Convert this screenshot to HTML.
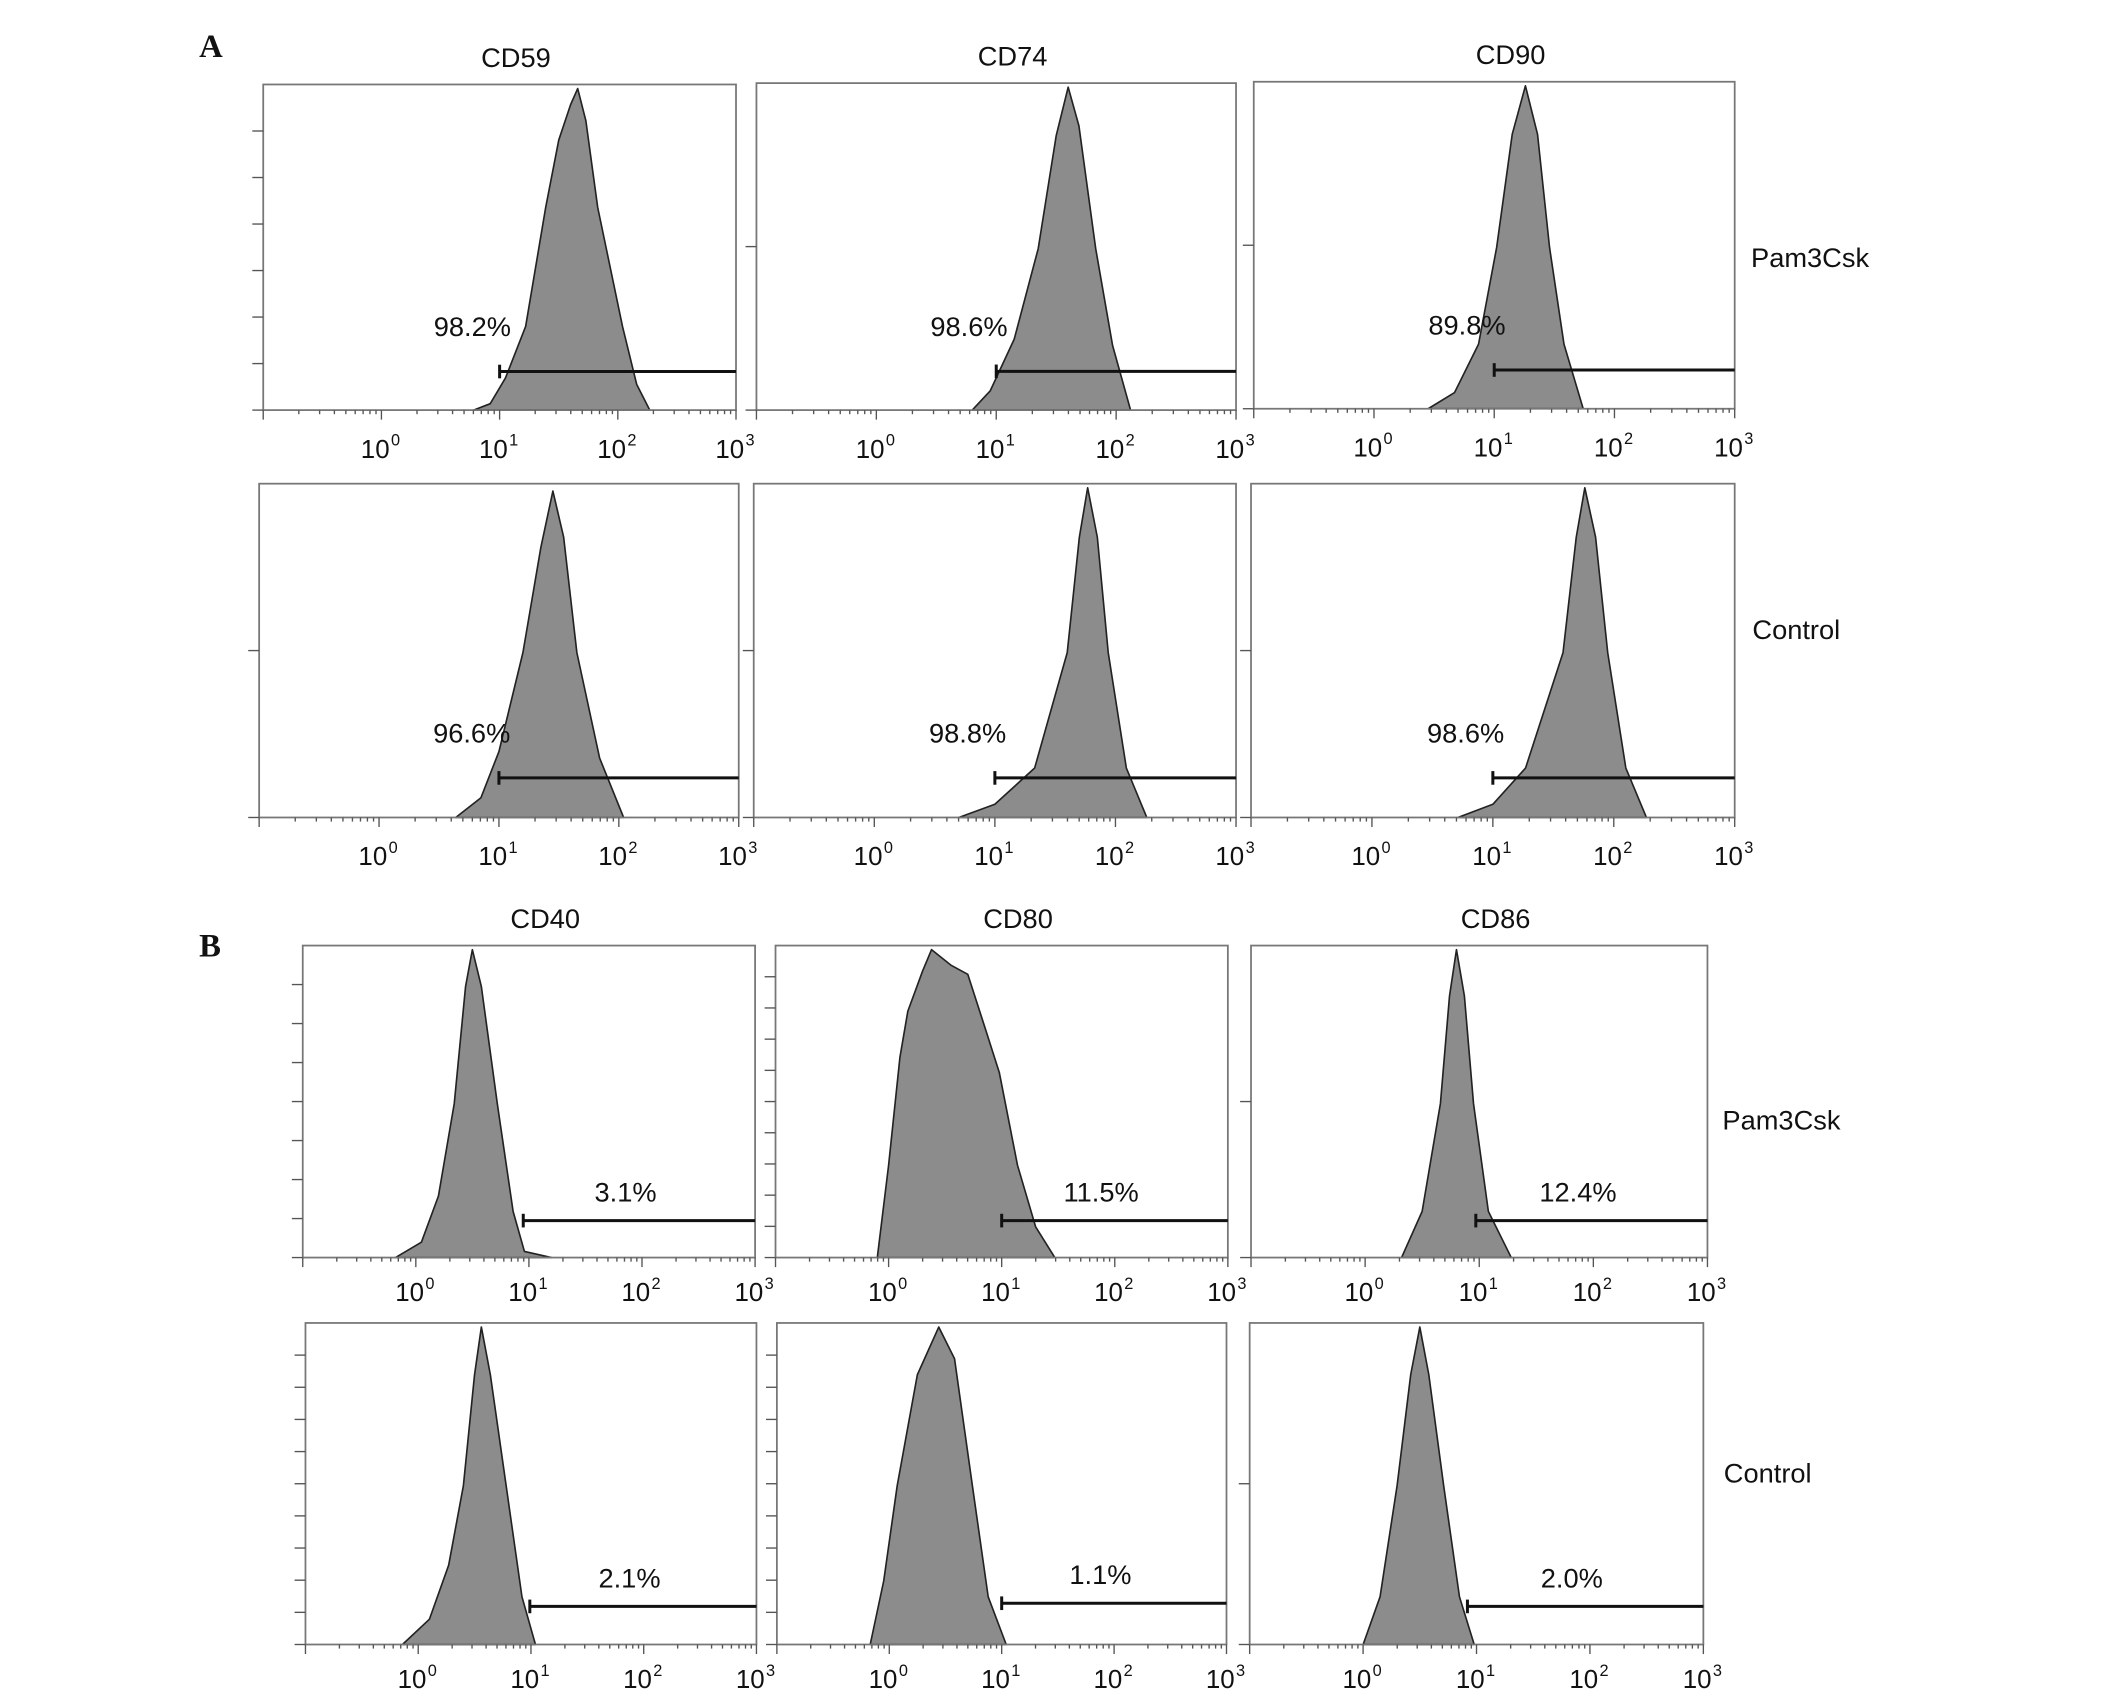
<!DOCTYPE html>
<html><head><meta charset="utf-8"><style>
html,body{margin:0;padding:0;background:#fff}
svg{display:block}
text{font-family:"Liberation Sans",Arial,sans-serif;fill:#111}
</style></head><body>
<svg id="fig" width="2126" height="1699" viewBox="0 0 1560 1247" xmlns="http://www.w3.org/2000/svg">
<text x="146" y="42" style="font-family:'Liberation Serif',serif;font-weight:bold" font-size="24">A</text>
<text x="146" y="702" style="font-family:'Liberation Serif',serif;font-weight:bold" font-size="24">B</text>
<text x="1285" y="196" font-size="20">Pam3Csk</text>
<text x="1286" y="469" font-size="20">Control</text>
<text x="1264" y="829" font-size="20">Pam3Csk</text>
<text x="1265" y="1088" font-size="20">Control</text>
</svg>
<script>
// panel titles / markers
const markers = ["CD59","CD74","CD90","CD59","CD74","CD90","CD40","CD80","CD86","CD40","CD80","CD86"];
const showTitle = [true,true,true,false,false,false,true,true,true,false,false,false];
const percentLabels = ["98.2%","98.6%","89.8%","96.6%","98.8%","98.6%","3.1%","11.5%","12.4%","2.1%","1.1%","2.0%"];
// gate start (log10 fluorescence) and gate height (fraction of box)
const gateStart = [1.0,1.0,1.0,1.0,1.0,1.0,0.95,1.0,0.97,0.99,1.0,0.92];
const gateHeight = [0.12,0.12,0.12,0.12,0.12,0.12,0.12,0.12,0.12,0.12,0.13,0.12];
// histogram outlines: [log10 value, relative count]
const hist0 = [[0.78,0],[0.92,0.02],[1.05,0.1],[1.22,0.26],[1.39,0.63],[1.5,0.84],[1.6,0.95],[1.66,1.0],[1.73,0.9],[1.83,0.63],[2.04,0.26],[2.16,0.08],[2.27,0]];
const hist1 = [[0.8,0],[0.95,0.06],[1.15,0.22],[1.35,0.5],[1.5,0.85],[1.6,1.0],[1.69,0.88],[1.83,0.5],[1.97,0.2],[2.12,0]];
const hist2 = [[0.45,0],[0.67,0.05],[0.87,0.2],[1.02,0.5],[1.15,0.85],[1.26,1.0],[1.36,0.85],[1.46,0.5],[1.58,0.2],[1.74,0]];
const hist3 = [[0.64,0],[0.85,0.06],[1.0,0.2],[1.2,0.5],[1.35,0.82],[1.45,0.99],[1.54,0.85],[1.65,0.5],[1.84,0.18],[2.04,0]];
const hist4 = [[0.7,0],[1.0,0.04],[1.33,0.15],[1.6,0.5],[1.7,0.85],[1.77,1.0],[1.85,0.85],[1.94,0.5],[2.09,0.15],[2.26,0]];
const hist5 = [[0.71,0],[1.0,0.04],[1.27,0.15],[1.58,0.5],[1.69,0.85],[1.76,1.0],[1.85,0.85],[1.95,0.5],[2.1,0.15],[2.27,0]];
const hist6 = [[-0.18,0],[0.05,0.05],[0.2,0.2],[0.34,0.5],[0.44,0.88],[0.5,1.0],[0.58,0.88],[0.72,0.5],[0.86,0.15],[0.96,0.02],[1.2,0]];
const hist7 = [[-0.1,0],[0.0,0.3],[0.1,0.65],[0.17,0.8],[0.3,0.93],[0.38,1.0],[0.55,0.95],[0.7,0.92],[0.85,0.75],[0.98,0.6],[1.14,0.3],[1.3,0.1],[1.47,0]];
const hist8 = [[0.32,0],[0.5,0.15],[0.66,0.5],[0.74,0.85],[0.8,1.0],[0.87,0.85],[0.95,0.5],[1.08,0.15],[1.28,0]];
const hist9 = [[-0.14,0],[0.1,0.08],[0.27,0.25],[0.4,0.5],[0.5,0.85],[0.56,1.0],[0.64,0.85],[0.78,0.5],[0.92,0.15],[1.04,0]];
const hist10 = [[-0.17,0],[-0.05,0.2],[0.07,0.5],[0.25,0.85],[0.44,1.0],[0.58,0.9],[0.74,0.5],[0.88,0.15],[1.04,0]];
const hist11 = [[0.0,0],[0.15,0.15],[0.3,0.5],[0.42,0.85],[0.5,1.0],[0.58,0.85],[0.71,0.5],[0.85,0.15],[0.98,0]];
const hists = [hist0,hist1,hist2,hist3,hist4,hist5,hist6,hist7,hist8,hist9,hist10,hist11];
const tickLabels = ["0","1","2","3"];
const yTickCounts = [6,1,1,1,1,1,7,9,1,9,9,1];

// layout (px in 1560x1247 viewBox) – not data
const boxes = [
 [193,62,540,301],[555,61,907,301],[920,60,1273,300],
 [190,355,542,600],[553,355,907,600],[918,355,1273,600],
 [222,694,554,923],[569,694,901,923],[918,694,1253,923],
 [224,971,555,1207],[570,971,900,1207],[917,971,1250,1207]];
const NS="http://www.w3.org/2000/svg";
const svg=document.getElementById('fig');
function el(tag,attrs,parent){const e=document.createElementNS(NS,tag);for(const k in attrs)e.setAttribute(k,attrs[k]);(parent||svg).appendChild(e);return e;}

boxes.forEach((b,i)=>{
  const [x0,y0,x1,y1]=b;
  const g=el('g',{});
  
  
  const xs=v=>x0+(v+1)/4*(x1-x0);
  const ys=f=>y1-f*(y1-y0-3);
  const pts=hists[i].map(p=>xs(p[0]).toFixed(1)+','+ys(p[1]).toFixed(1)).join(' ');
  const poly=el('polygon',{points:pts,fill:'#8c8c8c',stroke:'#222','stroke-width':1.2,'stroke-linejoin':'round'},g);
  
  
  const fr=el('rect',{x:x0,y:y0,width:x1-x0,height:y1-y0,fill:'none',stroke:'#777','stroke-width':1.3},g);
  
  
  const n=yTickCounts[i];
  for(let k=1;k<=n;k++){
    const yy=y1-k*(y1-y0)/(n+1);
    el('line',{x1:x0-8,x2:x0,y1:yy,y2:yy,stroke:'#555','stroke-width':1},g);
  }
  el('line',{x1:x0-8,x2:x0,y1:y1,y2:y1,stroke:'#555','stroke-width':1},g);
  for(let d=-1;d<3;d++){
    for(let m=1;m<10;m++){
      const xx=xs(d+Math.log10(m));
      el('line',{x1:xx,x2:xx,y1:y1,y2:y1+(m===1?7:3),stroke:'#555','stroke-width':1},g);
    }
  }
  el('line',{x1:x1,x2:x1,y1:y1,y2:y1+7,stroke:'#555','stroke-width':1},g);
  const ly=y1+(i<6?35:32);
  tickLabels.forEach((t,k)=>{
    const xx=xs(k);
    const tx=el('text',{x:xx+6,y:ly,'font-size':19,'text-anchor':'end'},g);
    tx.textContent='10';
    
    
    const sp=el('text',{x:xx+7,y:ly-9,'font-size':12},g);
    sp.textContent=t;
  });
  const gy=ys(gateHeight[i]);
  const gx=xs(gateStart[i]);
  const gl=el('line',{x1:gx,x2:x1,y1:gy,y2:gy,stroke:'#111','stroke-width':2.2},g);
  
  
  el('line',{x1:gx,x2:gx,y1:gy-5,y2:gy+5,stroke:'#111','stroke-width':2.2},g);
  let px,py;
  if(i<6){px=gx-20;py=gy-26;}else{px=(gx+x1)/2-10;py=gy-14;}
  const pl=el('text',{x:px,y:py,'font-size':20,'text-anchor':'middle'},g);
  pl.textContent=percentLabels[i];
  
  
  if(showTitle[i]){
    const tt=el('text',{x:(x0+x1)/2+12,y:y0-13,'font-size':20,'text-anchor':'middle'},g);
    tt.textContent=markers[i];
    
    
  }
});
</script>
</body></html>
